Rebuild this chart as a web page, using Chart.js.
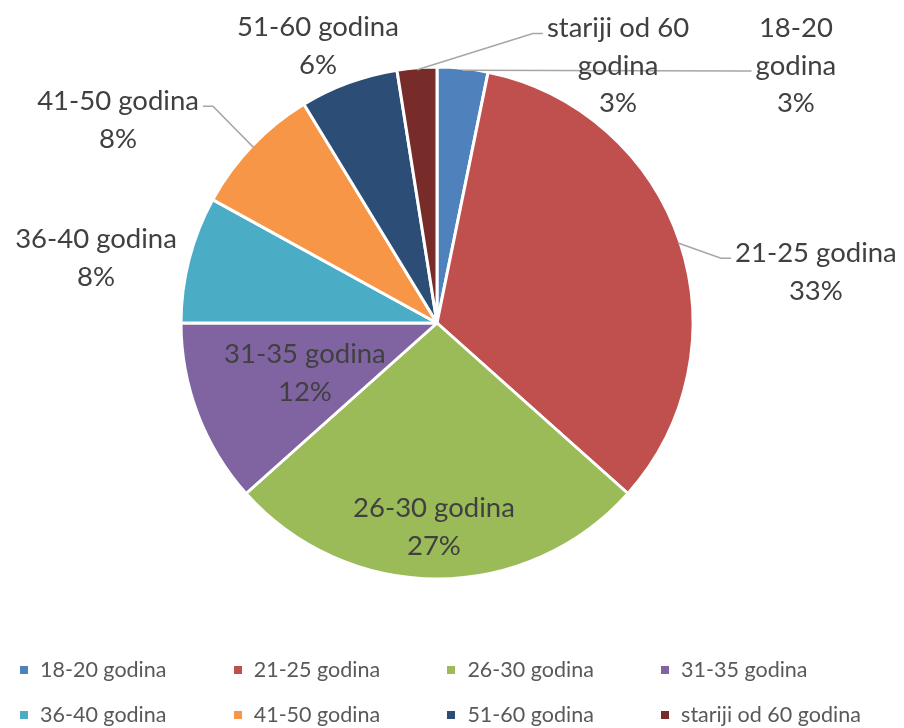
<!DOCTYPE html>
<html lang="hr"><head>
<meta charset="UTF-8">
<title>Dobne skupine</title>
<script src="https://cdn.jsdelivr.net/npm/chart.js@4.4.1/dist/chart.umd.min.js"></script>
<style>
	body { margin:0; background:#FFFFFF; }
	#wrap { position:relative; width:904px; height:728px; }
	#pie_chart { position:absolute; left:0; top:0; }
	.leg { position:absolute; font-family:Lato, "Open Sans", sans-serif; font-size:21.5px; color:#595959; white-space:nowrap; line-height:1; }
	.leg i { display:inline-block; width:8px; height:8px; margin-right:12px; vertical-align:middle; position:relative; top:-2px; }
</style>
</head>
<body>
<div id="wrap">
	<canvas id="pie_chart" width="904" height="728"></canvas>
	<div id="legend"></div>
</div>
<script>
	// dobne skupine (krug ide od vrha, u smjeru kazaljke)
	const labels = ['18-20 godina', '21-25 godina', '26-30 godina', '31-35 godina',
		'36-40 godina', '41-50 godina', '51-60 godina', 'stariji od 60 godina'];
	const shares = [3.2, 33.4, 26.8, 11.6, 8.0, 8.3, 6.2, 2.5];
	const colors = ['#4F81BD', '#C0504D', '#9BBB59', '#8064A2',
		'#4BACC6', '#F79646', '#2C4D75', '#772C2A'];

	// tekst oznaka na grafu (kako je prelomljen u retke)
	const labelLines = [
		['18-20', 'godina'],
		['21-25 godina'],
		['26-30 godina'],
		['31-35 godina'],
		['36-40 godina'],
		['41-50 godina'],
		['51-60 godina'],
		['stariji od 60', 'godina']
	];
	// položaj oznake u odnosu na središte, u jedinicama polumjera
	const labelPos = [[1.402, -1.004], [1.480, -0.199], [-0.012, 0.797], [-0.516, 0.195],
		[-1.332, -0.254], [-1.246, -0.793], [-0.465, -1.082], [0.707, -1.004]];
	// na koji redak ide linija (-1 = bez linije)
	const leaderRow = [1, 0, -1, -1, -1, 0, -1, 0];

	const total = shares.reduce((a, b) => a + b, 0);

	const labelPlugin = {
		id: 'pieLabels',
		afterDatasetsDraw(chart) {
			const ctx = chart.ctx;
			const meta = chart.getDatasetMeta(0);
			const lh = 37.5;
			ctx.save();
			ctx.font = '27.5px Lato, "Open Sans", sans-serif';
			ctx.textAlign = 'center';
			ctx.textBaseline = 'middle';
			meta.data.forEach((arc, i) => {
				const p = arc.getProps(['x', 'y', 'startAngle', 'endAngle', 'outerRadius'], true);
				const r = p.outerRadius;
				const cx = p.x + labelPos[i][0] * r;
				const cy = p.y + labelPos[i][1] * r;
				const lines = labelLines[i].concat([Math.round(shares[i] / total * 100) + '%']);
				const top = cy - (lines.length - 1) * lh / 2;

				if (leaderRow[i] >= 0) {
					const mid = (p.startAngle + p.endAngle) / 2;
					const sx = p.x + Math.cos(mid) * (r - 2);
					const sy = p.y + Math.sin(mid) * (r - 2);
					const ly = top + leaderRow[i] * lh + 5;
					const w = ctx.measureText(lines[leaderRow[i]]).width;
					let ex, bx;
					if (cx > sx) { ex = cx - w / 2 - 4; bx = ex - 10; }
					else { ex = cx + w / 2 + 4; bx = ex + 10; }
					ctx.strokeStyle = '#A6A6A6';
					ctx.lineWidth = 1.5;
					ctx.beginPath();
					ctx.moveTo(sx, sy);
					ctx.lineTo(bx, ly);
					ctx.lineTo(ex, ly);
					ctx.stroke();
				}

				ctx.fillStyle = '#404040';
				lines.forEach((t, k) => ctx.fillText(t, cx, top + k * lh));
			});
			ctx.restore();
		}
	};

	new Chart(document.getElementById('pie_chart'), {
		type: 'pie',
		data: {
			labels: labels,
			datasets: [{
				data: shares,
				backgroundColor: colors,
				borderColor: '#FFFFFF',
				borderWidth: 3
			}]
		},
		options: {
			responsive: false,
			animation: false,
			radius: 256,
			layout: { padding: { left: 0, right: 30, top: 0, bottom: 82 } },
			plugins: { legend: { display: false }, tooltip: { enabled: false } }
		},
		plugins: [labelPlugin]
	});

	// legenda: 4 stupca, 2 retka
	const legend = document.getElementById('legend');
	labels.forEach((t, i) => {
		const d = document.createElement('div');
		d.className = 'leg';
		d.style.left = (20 + (i % 4) * 213.7) + 'px';
		d.style.top = (659 + Math.floor(i / 4) * 45) + 'px';
		d.innerHTML = '<i style="background:' + colors[i] + '"></i>' + t;
		legend.appendChild(d);
	});
</script>
</body></html>
